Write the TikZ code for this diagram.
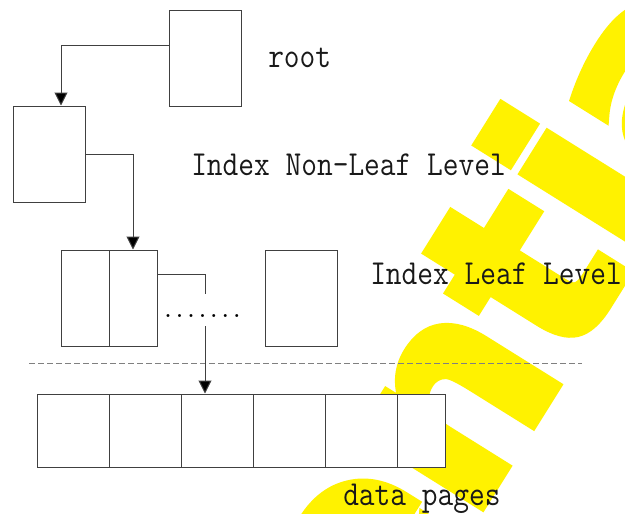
\documentclass[tikz,border=0pt]{standalone}
\usepackage{fontspec}
\newfontfamily\markfont{DejaVu Sans}[BoldFeatures={FakeBold=4}]
\usetikzlibrary{arrows.meta}

\begin{document}
\begin{tikzpicture}[x=0.75pt,y=-0.75pt,
    page/.style={draw=black!75, line width=0.75pt, fill=white, inner sep=0pt,
                 minimum width=54pt, minimum height=72pt},
    datapage/.style={page, minimum height=54.75pt},
    link/.style={draw=black!75, line width=0.75pt, -{Triangle[length=9.75pt,width=9.75pt,fill=black]}},
    level/.style={inner sep=0pt, anchor=base west, text=black!90, yscale=1.15,
                  font=\ttfamily\fontsize{22.9pt}{26pt}\selectfont}]
  % Background and page size
  \fill[white] (0,0) rectangle (625,514);
  \useasboundingbox (0,0) rectangle (625,514);

  % Watermark
  \begin{scope}
    \clip (0,0) rectangle (625,514);
    \node[rotate=58, anchor=base west, inner sep=0pt, text=yellow,
          font=\markfont\bfseries\fontsize{192pt}{200pt}\selectfont] (mark) at (-108.7,1450.3) {Confidential};
  \end{scope}

  % Border between index and data
  \draw[gray, line width=0.75pt, dash pattern=on 4.5pt off 2.25pt] (29,363) -- (582,363);

  % Index pages
  \node[page] (root) at (205,58) {};
  \node[page] (nonleaf) at (49,154) {};
  \node[page, minimum width=36pt] (leafA) at (85,298) {};
  \node[page, minimum width=36pt] (leafB) at (133,298) {};
  \node[page] (leafC) at (301,298) {};

  % Data pages
  \foreach \i in {1,...,5}
    \node[datapage] (data\i) at ({73+72*(\i-1)},430.5) {};
  \node[datapage, minimum width=36pt] (data6) at (421,430.5) {};

  % Pointers
  \draw[link] ([yshift=9.75pt]root.west) -| ([xshift=9pt]nonleaf.north);
  \draw[link] (nonleaf.east) -| (leafB.north);
  \coordinate (gapTop) at (205,294);
  \coordinate (gapBot) at (205,326);
  \draw[draw=black!75, line width=0.75pt] ([yshift=18pt]leafB.east) -| (gapTop);
  \draw[link] (gapBot) -- ([xshift=-9pt]data3.north);
  \node[inner sep=0pt, anchor=base, font=\ttfamily\bfseries\fontsize{16.4pt}{20pt}\selectfont] (dots) at (202.5,317.5) {.......};

  % Labels
  \node[level] (rootLabel) at (268,67) {root};
  \node[level] (nonleafLabel) at (191,175) {Index Non-Leaf Level};
  \node[level] (leafLabel) at (370,284) {Index Leaf Level};
  \node[level] (dataLabel) at (343,505) {data pages};
\end{tikzpicture}
\end{document}
